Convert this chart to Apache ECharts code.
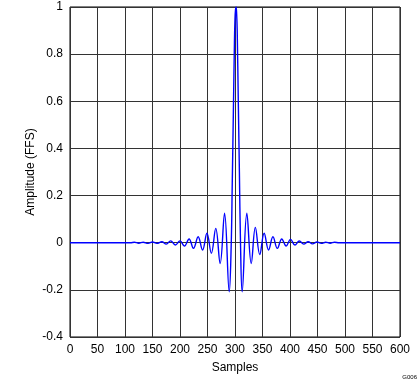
<!DOCTYPE html>
<html><head><meta charset="utf-8">
<script src="https://cdn.jsdelivr.net/npm/echarts@6/dist/echarts.min.js"></script>
<style>html,body{margin:0;padding:0;background:#fff}#c{width:419px;height:382px}</style>
</head><body><div id="c"></div>
<script>
// sample positions and amplitudes (extrema of the response)
const samples = [0, 110, 117, 125, 133, 142, 150, 158, 167, 175, 183, 191.5, 200, 208, 216.5, 224.5, 233, 241, 249, 257, 265, 273, 281, 289.5, 293, 295, 297, 299, 300, 301, 302, 303, 304, 306, 308, 310, 313, 321.5, 329.5, 337, 345, 353, 361, 369, 377, 385, 393, 401, 409, 417, 425, 433, 441, 449, 457, 465, 473, 481, 489, 600];
const amplitude = [0, 0, 0.002, -0.002, 0.002, -0.003, 0.003, -0.003, 0.004, -0.006, 0.008, -0.01, 0.008, -0.014, 0.016, -0.024, 0.025, -0.031, 0.04, -0.045, 0.061, -0.088, 0.125, -0.208, -0.02, 0.25, 0.55, 0.85, 0.95, 0.99, 1.0, 0.97, 0.9, 0.6, 0.3, 0.0, -0.208, 0.125, -0.088, 0.065, -0.05, 0.04, -0.031, 0.025, -0.024, 0.016, -0.014, 0.014, -0.01, 0.007, -0.006, 0.004, -0.005, 0.003, -0.003, 0.002, -0.002, 0.002, 0, 0];
const xTicks = [0, 50, 100, 150, 200, 250, 300, 350, 400, 450, 500, 550, 600];
const yTicks = [-0.4, -0.2, 0, 0.2, 0.4, 0.6, 0.8, 1];

const chart = echarts.init(document.getElementById('c'));
const font = 'Liberation Sans, Arial, sans-serif';
chart.setOption({
  animation: false,
  grid: {left: 70, right: 19, top: 7, bottom: 45, show: true, borderColor: '#000', borderWidth: 1},
  xAxis: {
    type: 'value', min: xTicks[0], max: xTicks[xTicks.length-1], interval: 50,
    name: 'Samples', nameLocation: 'middle', nameGap: 25, nameMoveOverlap: false,
    nameTextStyle: {fontFamily: font, fontSize: 12, color: '#000'},
    axisLine: {show: false}, axisTick: {show: false},
    axisLabel: {fontFamily: font, fontSize: 12, color: '#000', margin: 7},
    splitLine: {show: true, lineStyle: {color: '#333', width: 1}}
  },
  yAxis: {
    type: 'value', min: yTicks[0], max: yTicks[yTicks.length-1], interval: 0.2,
    name: 'Amplitude (FFS)', nameLocation: 'middle', nameGap: 33, nameMoveOverlap: false,
    nameTextStyle: {fontFamily: font, fontSize: 12, color: '#000'},
    axisLine: {show: false}, axisTick: {show: false},
    axisLabel: {fontFamily: font, fontSize: 12, color: '#000', margin: 7,
      formatter: v => String(Math.round(v*10)/10)},
    splitLine: {show: true, lineStyle: {color: '#333', width: 1}}
  },
  graphic: [{type: 'text', right: 2, bottom: 2, style: {text: 'G006', fontSize: 6, fontFamily: font, fill: '#000'}}],
  series: [{
    type: 'line', data: samples.map((s, i) => [s, amplitude[i]]),
    showSymbol: false, smooth: 0.4, lineStyle: {color: '#0000ff', width: 1.4}, z: 5
  }]
});
</script></body></html>
